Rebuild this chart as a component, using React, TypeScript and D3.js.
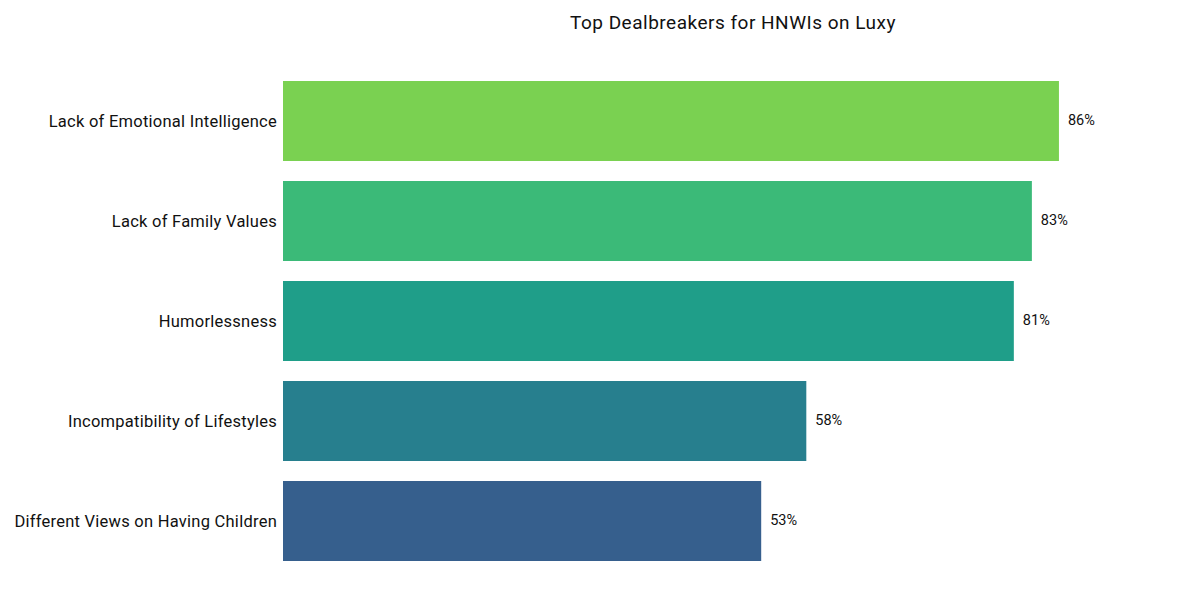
import * as d3 from "d3";

const categories = [
  "Lack of Emotional Intelligence",
  "Lack of Family Values",
  "Humorlessness",
  "Incompatibility of Lifestyles",
  "Different Views on Having Children",
];
const values = [86, 83, 81, 58, 53];
const colors = ["#7ad151", "#3bba78", "#1f9e89", "#277f8e", "#365f8d"];

const W = 1200;
const H = 600;
const m = { top: 71, right: 17, bottom: 29, left: 283 };
const FONT = "Roboto, 'Open Sans', sans-serif";

export default function App() {
  const x = d3.scaleLinear().domain([0, 99.75]).range([m.left, W - m.right]);
  const y = d3
    .scaleBand<string>()
    .domain(categories)
    .range([m.top, H - m.bottom])
    .paddingInner(0.2)
    .paddingOuter(0.1);

  return (
    <svg width={W} height={H} style={{ display: "block", position: "absolute", left: 0, top: 0 }}>
      <rect width={W} height={H} fill="#fff" />
      <text
        x={(m.left + W - m.right) / 2}
        y={29}
        textAnchor="middle"
        fontFamily={FONT}
        fontSize={19}
        letterSpacing={0.5}
        fill="#111"
      >
        Top Dealbreakers for HNWIs on Luxy
      </text>
      {categories.map((c, i) => {
        const y0 = y(c)!;
        const cy = y0 + y.bandwidth() / 2;
        return (
          <g key={c}>
            <rect
              x={x(0)}
              y={y0}
              width={x(values[i]) - x(0)}
              height={y.bandwidth()}
              fill={colors[i]}
            />
            <text
              x={x(0) - 6}
              y={cy}
              dy="0.35em"
              textAnchor="end"
              fontFamily={FONT}
              fontSize={16.5}
              letterSpacing={0.25}
              fill="#111"
            >
              {c}
            </text>
            <text
              x={x(values[i]) + 9}
              y={cy}
              dy="0.3em"
              fontFamily={FONT}
              fontSize={14.5}
              fill="#111"
            >
              {values[i]}%
            </text>
          </g>
        );
      })}
    </svg>
  );
}
